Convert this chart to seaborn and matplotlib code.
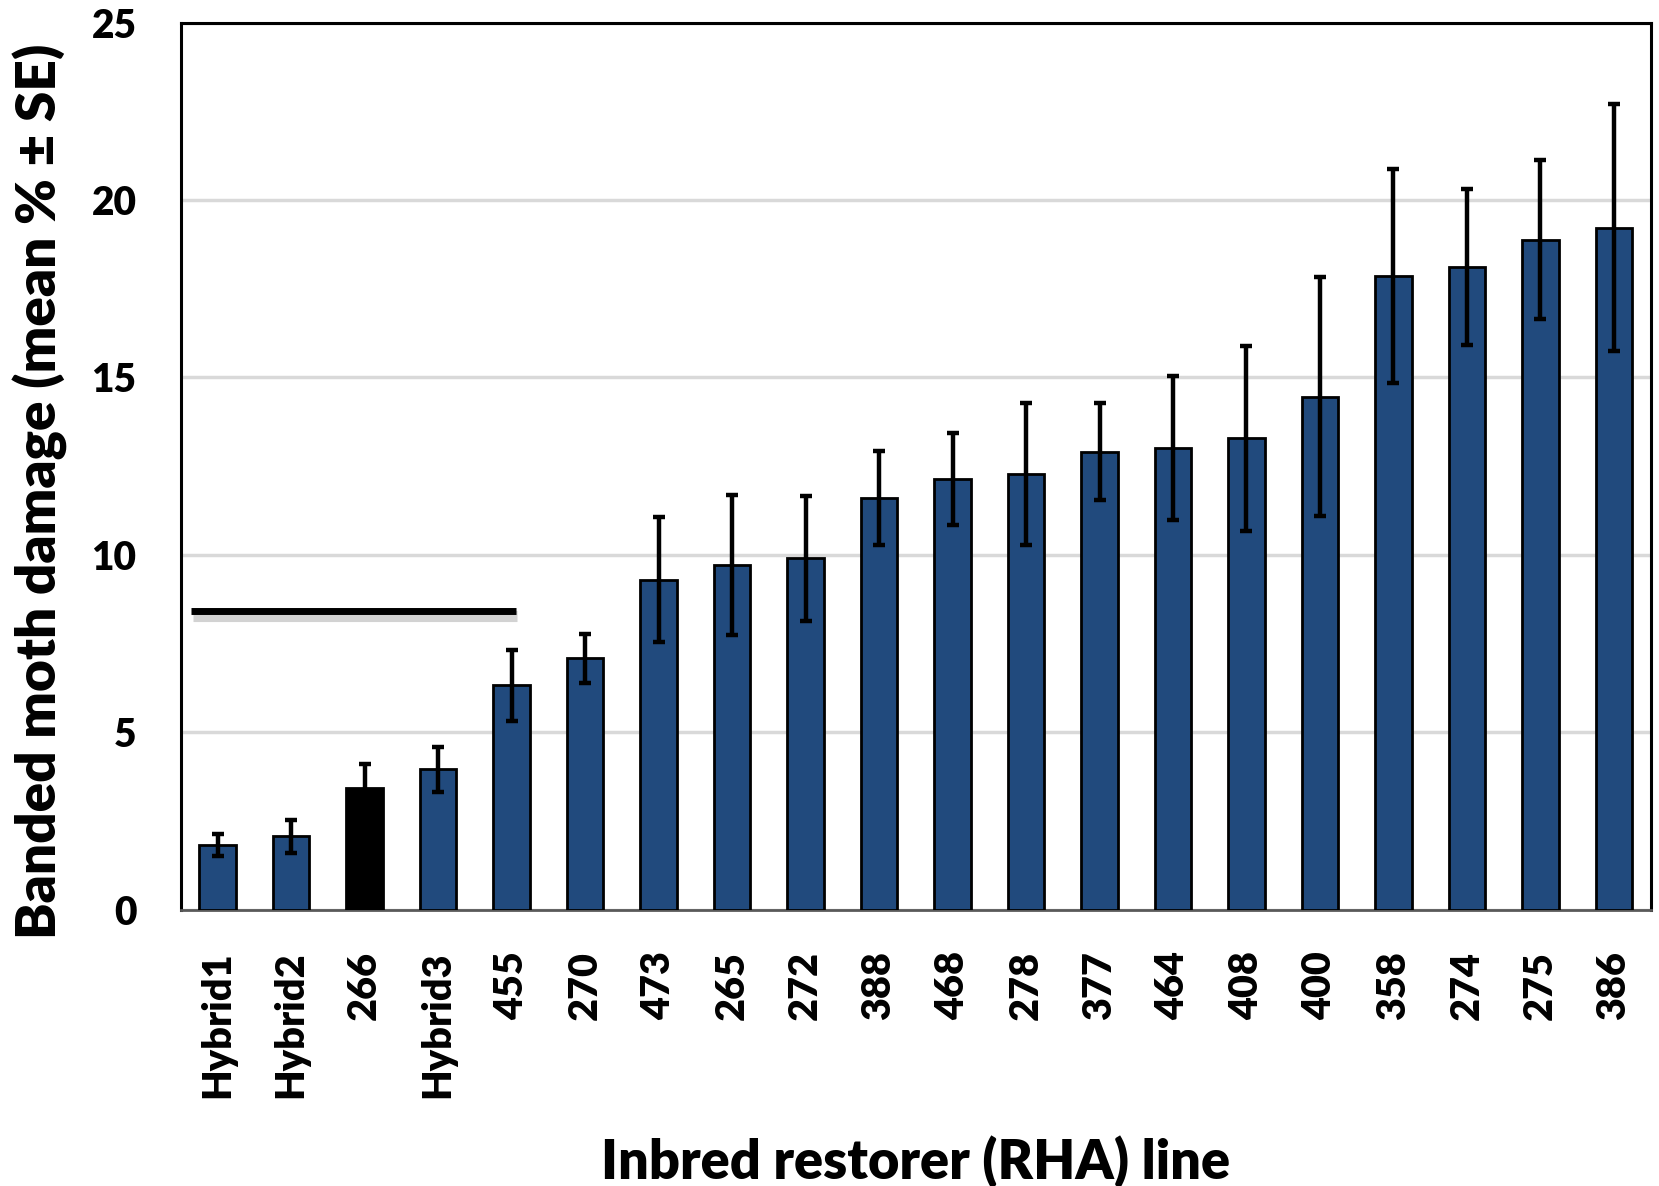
import pandas as pd
import matplotlib
matplotlib.use("Agg")
import matplotlib.pyplot as plt
import matplotlib.patheffects as pe
import seaborn as sns

lines = ["Hybrid1", "Hybrid2", "266", "Hybrid3", "455", "270", "473", "265", "272",
         "388", "468", "278", "377", "464", "408", "400", "358", "274", "275", "386"]
damage = [1.82, 2.07, 3.44, 3.95, 6.33, 7.08, 9.30, 9.71, 9.90,
          11.61, 12.13, 12.27, 12.91, 13.01, 13.28, 14.46, 17.86, 18.10, 18.88, 19.22]
se = [0.30, 0.47, 0.66, 0.64, 1.00, 0.70, 1.77, 1.98, 1.77,
      1.32, 1.30, 2.00, 1.36, 2.02, 2.60, 3.37, 3.02, 2.20, 2.24, 3.48]
highlight = "266"

# bracket line over the low-damage group
bar_line_y = 8.43
bar_line_x = (-0.36, 4.06)

BLUE = "#214A7D"
colors = ["black" if l == highlight else BLUE for l in lines]

df = pd.DataFrame({"line": lines, "damage": damage, "se": se})

sns.set_style("white")
plt.rcParams["font.family"] = ["Lato", "DejaVu Sans"]
plt.rcParams["font.weight"] = 800
for k in ["text.color", "axes.labelcolor", "xtick.color", "ytick.color"]:
    plt.rcParams[k] = "black"
W = 800

fig = plt.figure(figsize=(16.59, 11.86), dpi=100)
ax = fig.add_axes([0.109, 0.233, 0.886, 0.748])

sns.barplot(data=df, x="line", y="damage", hue="line", palette=colors, order=lines,
            legend=False, width=0.5, edgecolor="black", linewidth=2, saturation=1,
            errorbar=None, ax=ax, zorder=3)
ax.errorbar(range(len(lines)), df["damage"], yerr=df["se"], fmt="none",
            ecolor="black", elinewidth=3.2, capsize=4.5, capthick=3.2, zorder=4)

ax.hlines(bar_line_y, *bar_line_x, color="black", lw=5, zorder=5,
          path_effects=[pe.SimpleLineShadow(offset=(1, -4), shadow_color="gray", alpha=0.35,
                                            linewidth=8),
                        pe.Normal()])

ax.set_xlim(-0.5, len(lines) - 0.5)
ax.set_ylim(0, 25)
ax.set_yticks([0, 5, 10, 15, 20, 25])
ax.yaxis.grid(True, color="#D9D9D9", lw=2.5, zorder=0)
ax.set_axisbelow(True)

for s in ["left", "top", "right"]:
    ax.spines[s].set_color("black")
    ax.spines[s].set_linewidth(2.2)
ax.spines["bottom"].set_color("#595959")
ax.spines["bottom"].set_linewidth(2)

ax.tick_params(axis="y", length=0, pad=32, labelsize=28, colors="black")
ax.tick_params(axis="x", length=0, pad=30, labelsize=28.5, rotation=90, colors="black")
for t in ax.get_xticklabels() + ax.get_yticklabels():
    t.set_fontweight(W)

ax.set_xlabel("Inbred restorer (RHA) line", fontsize=39, fontweight=W, color="black")
ax.set_ylabel("Banded moth damage (mean % ± SE)", fontsize=39.5, fontweight=W, color="black")
ax.xaxis.set_label_coords(0.5, -0.254)
ax.yaxis.set_label_coords(-0.077, 0.472)

fig.savefig("out.png", dpi=100)
